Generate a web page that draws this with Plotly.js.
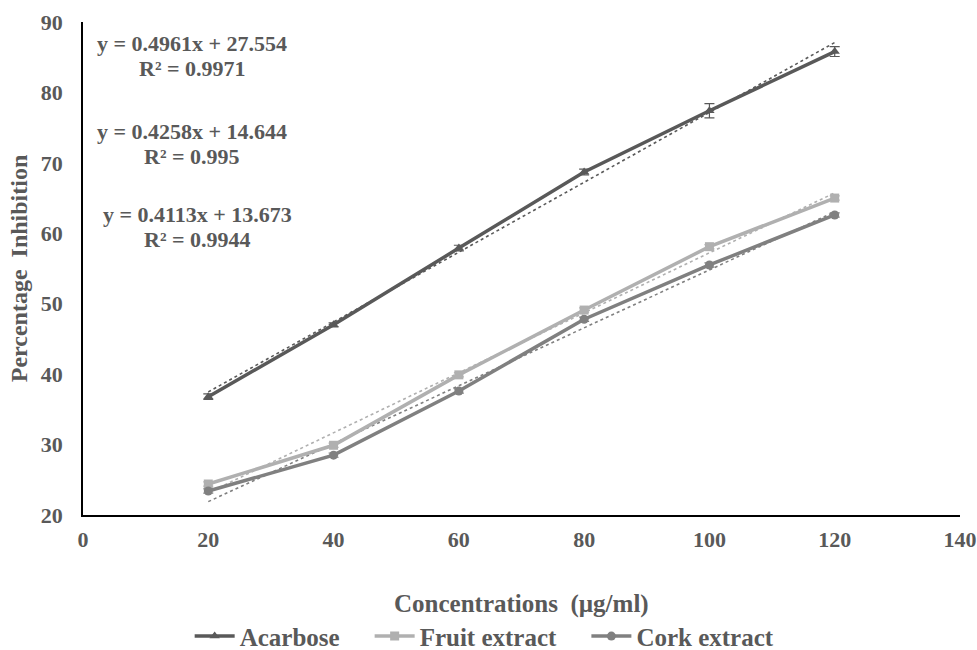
<!DOCTYPE html>
<html>
<head>
<meta charset="utf-8">
<script src="https://cdn.plot.ly/plotly-3.0.1.min.js"></script>
<style>html,body{margin:0;padding:0;background:#fff;}#chart{width:977px;height:650px;}</style>
</head>
<body>
<div id="chart"></div>
<script>
const concentrations = [20, 40, 60, 80, 100, 120];
const acarbose = [36.8, 47.0, 57.9, 68.7, 77.4, 85.8];
const acarboseErr = [0.4, 0.3, 0.4, 0.4, 1.0, 0.7];
const fruit = [24.4, 29.9, 39.9, 49.1, 58.1, 65.0];
const fruitErr = [0.3, 0.3, 0.3, 0.3, 0.3, 0.3];
const cork = [23.4, 28.5, 37.6, 47.8, 55.5, 62.6];
const corkErr = [0.3, 0.3, 0.3, 0.3, 0.3, 0.3];
const seriesNames = ["Acarbose", "Fruit extract", "Cork extract"];
const slopes = [0.4961, 0.4258, 0.4113];
const intercepts = [27.554, 14.644, 13.673];
const r2 = ["0.9971", "0.995", "0.9944"];
const xTicks = [0, 20, 40, 60, 80, 100, 120, 140];
const yTicks = [20, 30, 40, 50, 60, 70, 80, 90];
const xTitle = "Concentrations  (µg/ml)";
const yTitle = "Percentage  Inhibition";

const colors = ["#595959", "#b0b0b0", "#808080"];
const symbols = ["triangle-up", "square", "circle"];
const ys = [acarbose, fruit, cork];
const errs = [acarboseErr, fruitErr, corkErr];
const font = {family: "Liberation Serif", color: "#595959"};
const gap = "\u00a0\u00a0\u00a0\u00a0";

const traces = [];
for (let i = 0; i < 3; i++) {
  const xs = [concentrations[0], concentrations[concentrations.length - 1]];
  traces.push({
    x: xs,
    y: xs.map(v => slopes[i] * v + intercepts[i]),
    mode: "lines",
    line: {color: colors[i], width: 1.6, dash: "dot"},
    showlegend: false,
    hoverinfo: "skip"
  });
}
for (let i = 0; i < 3; i++) {
  traces.push({
    x: concentrations,
    y: ys[i],
    name: "<b>" + seriesNames[i] + "</b>" + (i < 2 ? gap : ""),
    mode: "lines+markers",
    line: {color: colors[i], width: 3.5},
    marker: {symbol: symbols[i], size: 9, color: colors[i]},
    error_y: {type: "data", array: errs[i], visible: true, color: colors[i], thickness: 1.2, width: 5}
  });
}

const annPos = [[192, 86.9, 83.4], [192, 74.5, 70.9], [197, 62.7, 59.1]];
const annotations = [];
for (let i = 0; i < 3; i++) {
  const eq = "y = " + slopes[i] + "x + " + intercepts[i].toFixed(3);
  annotations.push({
    xref: "paper", yref: "y", x: (annPos[i][0] - 83) / 877, y: annPos[i][1],
    text: "<b>" + eq + "</b>", showarrow: false, xanchor: "center",
    font: Object.assign({size: 22}, font)
  });
  annotations.push({
    xref: "paper", yref: "y", x: (annPos[i][0] - 83) / 877, y: annPos[i][2],
    text: "<b>R² = " + r2[i] + "</b>", showarrow: false, xanchor: "center",
    font: Object.assign({size: 22}, font)
  });
}
annotations.push({
  xref: "paper", yref: "paper", x: 0.5, y: -0.1805, yanchor: "middle", xanchor: "center",
  text: "<b>" + xTitle + "</b>", showarrow: false,
  font: Object.assign({size: 25}, font)
});

const layout = {
  width: 977, height: 650,
  margin: {l: 83, r: 17, t: 22, b: 135, autoexpand: false},
  paper_bgcolor: "#fff", plot_bgcolor: "#fff",
  xaxis: {
    range: [0, 140], tickvals: xTicks, ticktext: xTicks.map(v => "<b>" + v + "</b>"),
    showgrid: false, zeroline: false, showline: true, linecolor: "#000", linewidth: 1.5,
    ticks: "outside", ticklen: 4, tickcolor: "rgba(0,0,0,0)",
    tickfont: Object.assign({size: 22}, font), automargin: false
  },
  yaxis: {
    range: [20, 90], tickvals: yTicks, ticktext: yTicks.map(v => "<b>" + v + "</b>"),
    showgrid: false, zeroline: false, showline: true, linecolor: "#000", linewidth: 1.5,
    ticks: "outside", ticklen: 14, tickcolor: "rgba(0,0,0,0)",
    tickfont: Object.assign({size: 22}, font), automargin: false,
    title: {text: "<b>" + yTitle + "</b>", font: Object.assign({size: 24}, font), standoff: 6}
  },
  legend: {
    orientation: "h", x: 0.458, xanchor: "center", yref: "container", y: 0.021, yanchor: "middle",
    font: Object.assign({size: 25}, font), itemwidth: 40, tracegroupgap: 0
  },
  showlegend: true,
  annotations: annotations
};

Plotly.newPlot("chart", traces, layout, {displayModeBar: false});
</script>
</body>
</html>
